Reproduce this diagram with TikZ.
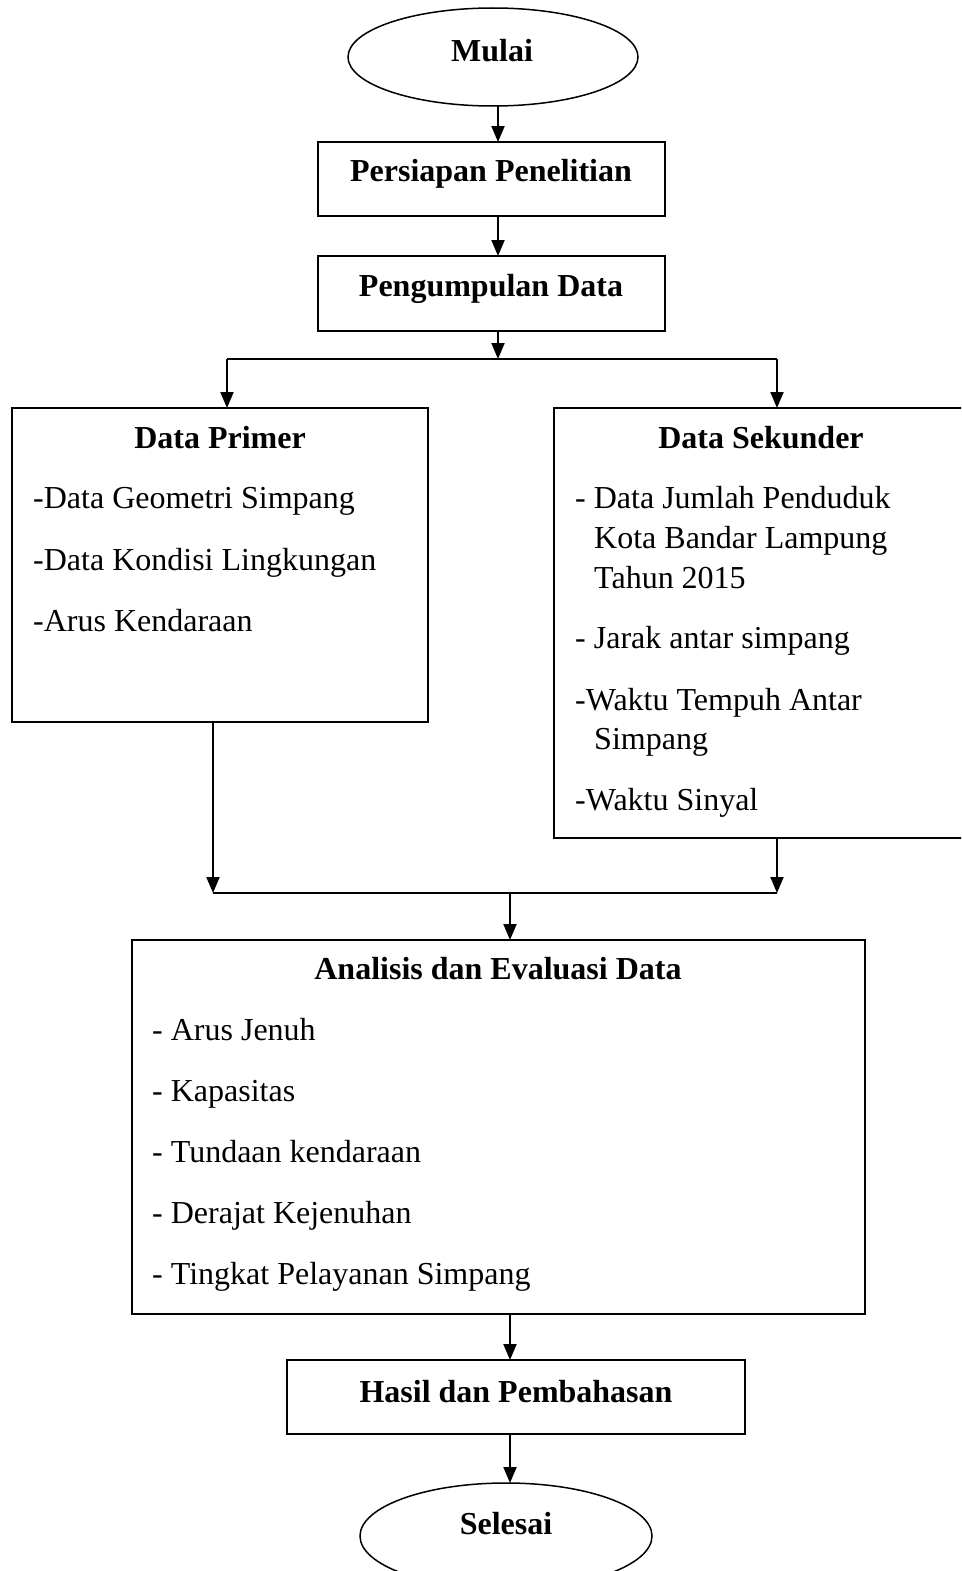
\documentclass[tikz,border=0pt]{standalone}
\usepackage{fontspec}
\setmainfont{Liberation Serif}
\usetikzlibrary{arrows.meta,shapes.geometric}
\tikzset{
  box/.style={draw,line width=2pt,inner sep=0pt,outer sep=0pt,anchor=north west},
  oval/.style={draw,ellipse,line width=1.5pt,inner sep=0pt,outer sep=0pt},
  ttl/.style={anchor=base,inner sep=0pt,font=\fontsize{32}{37}\selectfont\bfseries},
  itm/.style={anchor=base west,inner sep=0pt,font=\fontsize{32}{37}\selectfont},
  arr/.style={line width=2pt,-{Triangle[length=16pt,width=13pt]}},
  ln/.style={line width=2pt}
}
\begin{document}
\begin{tikzpicture}[x=1pt,y=-1pt]
\clip (0,0) rectangle (961,1571);
\fill[white] (0,0) rectangle (961,1571);
% shapes
\node[oval,minimum width=290pt,minimum height=98pt] (mulai) at (493,57) {};
\node[box,minimum width=347pt,minimum height=74pt] (persiapan) at (318,142) {};
\node[box,minimum width=347pt,minimum height=75pt] (pengumpulan) at (318,256) {};
\node[box,minimum width=416pt,minimum height=314pt] (primer) at (12,408) {};
\node[box,minimum width=421pt,minimum height=430pt] (sekunder) at (554,408) {};
\node[box,minimum width=733pt,minimum height=374pt] (analisis) at (132,940) {};
\node[box,minimum width=458pt,minimum height=74pt] (hasil) at (287,1360) {};
\node[oval,minimum width=292pt,minimum height=106pt] (selesai) at (506,1536) {};
% texts
\node[ttl] (tmulai) at (492,62) {Mulai};
\node[ttl] (tpersiapan) at (491,181) {Persiapan Penelitian};
\node[ttl] (tpengumpulan) at (491,296) {Pengumpulan Data};
\node[ttl] (tprimer) at (220,448) {Data Primer};
\node[itm] (p1) at (33,508) {-Data Geometri Simpang};
\node[itm] (p2) at (33,570) {-Data Kondisi Lingkungan};
\node[itm] (p3) at (33,631) {-Arus Kendaraan};
\node[ttl] (tsekunder) at (761,448) {Data Sekunder};
\node[itm] (s1) at (575,508) {- Data Jumlah Penduduk};
\node[itm] (s1b) at (594,548) {Kota Bandar Lampung};
\node[itm] (s1c) at (594,588) {Tahun 2015};
\node[itm] (s2) at (575,648) {- Jarak antar simpang};
\node[itm] (s3) at (575,710) {-Waktu Tempuh Antar};
\node[itm] (s3b) at (594,749) {Simpang};
\node[itm] (s4) at (575,810) {-Waktu Sinyal};
\node[ttl] (tanalisis) at (498,979) {Analisis dan Evaluasi Data};
\node[itm] (a1) at (152,1040) {- Arus Jenuh};
\node[itm] (a2) at (152,1101) {- Kapasitas};
\node[itm] (a3) at (152,1162) {- Tundaan kendaraan};
\node[itm] (a4) at (152,1223) {- Derajat Kejenuhan};
\node[itm] (a5) at (152,1284) {- Tingkat Pelayanan Simpang};
\node[ttl] (thasil) at (516,1402) {Hasil dan Pembahasan};
\node[ttl] (tselesai) at (506,1534) {Selesai};
% connectors
\coordinate (c1) at (498,0);
\draw[arr] (c1 |- mulai.south) -- (c1 |- persiapan.north);
\draw[arr] (c1 |- persiapan.south) -- (c1 |- pengumpulan.north);
\coordinate (sc) at (498,359);
\coordinate (sl) at (227,359);
\coordinate (sr) at (777,359);
\draw[arr] (c1 |- pengumpulan.south) -- (sc);
\draw[ln] (sl) -- (sr);
\draw[arr] (sl) -- (sl |- primer.north);
\draw[arr] (sr) -- (sr |- sekunder.north);
\coordinate (ml) at (213,893);
\coordinate (mr) at (777,893);
\coordinate (mc) at (510,893);
\draw[arr] (ml |- primer.south) -- (ml);
\draw[arr] (mr |- sekunder.south) -- (mr);
\draw[ln] (ml) -- (mr);
\draw[arr] (mc) -- (mc |- analisis.north);
\draw[arr] (mc |- analisis.south) -- (mc |- hasil.north);
\draw[arr] (mc |- hasil.south) -- (mc |- selesai.north);
\end{tikzpicture}
\end{document}
